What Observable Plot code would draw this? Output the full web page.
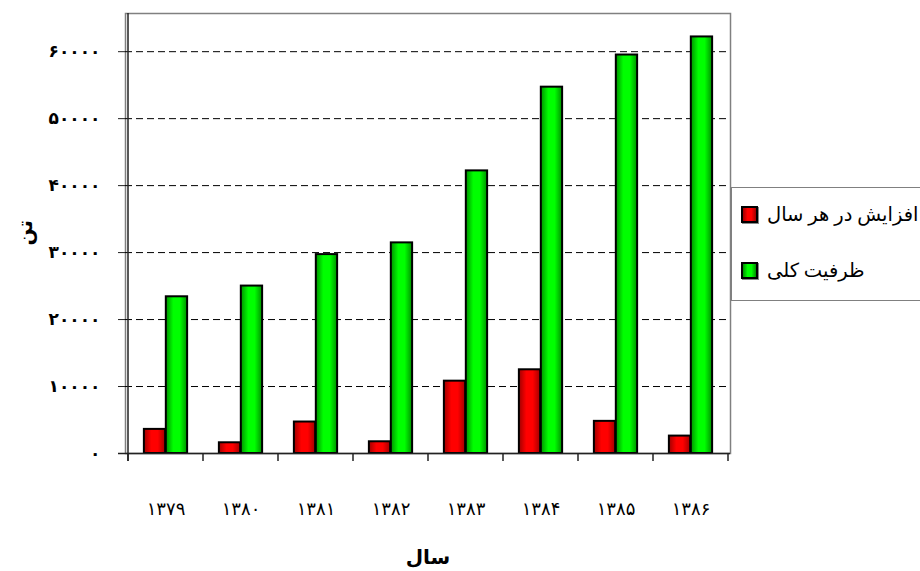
<!DOCTYPE html>
<html>
<head>
<meta charset="utf-8">
<script src="https://cdn.jsdelivr.net/npm/d3@7"></script>
<script src="https://cdn.jsdelivr.net/npm/@observablehq/plot@0.6"></script>
<style>
  body { margin: 0; background: #fff; }
  #wrap { position: relative; width: 920px; height: 571px; overflow: hidden;
          font-family: "Times New Roman", "Liberation Serif", "DejaVu Sans", serif; }
  #legend { position: absolute; left: 731px; top: 187px; width: 240px; height: 114px;
            border: 1px solid #808080; box-sizing: border-box; background: #fff; }
  .row { position: absolute; left: 9px; height: 24px; display: flex; align-items: center; white-space: nowrap; }
  .sw { width: 17px; height: 17px; border: 2px solid #000; box-sizing: border-box; margin-right: 9px; flex: none;
        box-shadow: 1px 1px 0 #888; }
  .lab { font-size: 19.5px; direction: rtl; color: #000; }
</style>
</head>
<body>
<div id="wrap">
  <div id="chart"></div>
  <div id="legend"></div>
</div>
<script>
// ---- data ----
const years = ["1379", "1380", "1381", "1382", "1383", "1384", "1385", "1386"];
const increase = [3600, 1600, 4700, 1750, 10800, 12500, 4800, 2600];      // افزایش در هر سال
const capacity = [23400, 25000, 29700, 31450, 42200, 54700, 59500, 62200]; // ظرفیت کلی
const seriesNames = ["افزایش در هر سال", "ظرفیت کلی"];
const yTicks = [0, 10000, 20000, 30000, 40000, 50000, 60000];
const xTitle = "سال";
const yTitle = "تن";

const fa = s => String(s).replace(/\d/g, d => "۰۱۲۳۴۵۶۷۸۹"[d]);

const incRows = years.map((yr, i) => ({year: yr, value: increase[i]}));
const capRows = years.map((yr, i) => ({year: yr, value: capacity[i]}));

const W = 920, H = 571, mL = 125, mR = 190, mT = 13, mB = 118;
const bw = (W - mL - mR) / years.length;
const gap = 0.21, barFrac = 0.29;

const chart = Plot.plot({
  width: W, height: H,
  marginLeft: mL, marginRight: mR, marginTop: mT, marginBottom: mB,
  style: {fontFamily: "'Times New Roman', 'Liberation Serif', 'DejaVu Sans', serif", background: "#fff", color: "#000"},
  x: {type: "band", domain: years, padding: 0},
  y: {domain: [0, 65700]},
  marks: [
    Plot.frame({stroke: "#808080", strokeWidth: 1.5}),
    Plot.ruleY(yTicks.filter(d => d > 0), {stroke: "#000", strokeWidth: 1, strokeDasharray: "7,4"}),
    Plot.barY(incRows, {x: "year", y: "value", fill: "url(#gRed)", stroke: "#000", strokeWidth: 2,
      insetLeft: gap * bw, insetRight: (1 - gap - barFrac) * bw}),
    Plot.barY(capRows, {x: "year", y: "value", fill: "url(#gGreen)", stroke: "#000", strokeWidth: 2,
      insetLeft: (gap + barFrac) * bw, insetRight: (1 - gap - 2 * barFrac) * bw}),
    Plot.ruleY([0], {stroke: "#222", strokeWidth: 1.5, insetLeft: -7}),
    Plot.axisY({ticks: yTicks, tickFormat: fa, tickSize: 7, tickPadding: 18, fontSize: 17, fontWeight: "bold", label: null, stroke: "#222"}),
    Plot.axisX({tickSize: 0, tickPadding: 49, tickFormat: fa, fontSize: 18, label: null}),
    Plot.text([yTitle], {frameAnchor: "left", dx: -100, dy: 12, rotate: -90, fontSize: 20, fontWeight: "bold"}),
    Plot.text([xTitle], {frameAnchor: "bottom", dy: 110, fontSize: 20, fontWeight: "bold"})
  ]
});

// gradients for the bar fills
const svg = d3.select(chart);
const defs = svg.insert("defs", ":first-child");
function grad(id, dark, bright) {
  const g = defs.append("linearGradient").attr("id", id).attr("x1", 0).attr("x2", 1).attr("y1", 0).attr("y2", 0);
  g.append("stop").attr("offset", "0%").attr("stop-color", dark);
  g.append("stop").attr("offset", "35%").attr("stop-color", bright);
  g.append("stop").attr("offset", "65%").attr("stop-color", bright);
  g.append("stop").attr("offset", "100%").attr("stop-color", dark);
}
grad("gRed", "#a00000", "#ff0000");
grad("gGreen", "#009000", "#00ff00");

// left axis line and category boundary ticks, placed through the plot's scales
const xs = chart.scale("x"), ys = chart.scale("y");
const y0 = ys.apply(0), yTop = ys.apply(ys.domain[1]);
const g = svg.append("g").attr("stroke", "#222").attr("stroke-width", 1.5);
g.append("line").attr("x1", xs.apply(years[0])).attr("x2", xs.apply(years[0]))
  .attr("y1", yTop).attr("y2", y0 + 8);
const bounds = years.map(yr => xs.apply(yr)).concat([xs.apply(years[years.length - 1]) + xs.bandwidth]);
bounds.forEach(b => g.append("line").attr("x1", b).attr("x2", b).attr("y1", y0).attr("y2", y0 + 8));

document.getElementById("chart").appendChild(chart);

// legend
const legend = document.getElementById("legend");
const fills = ["linear-gradient(90deg,#a00000,#ff0000 35%,#ff0000 65%,#a00000)",
               "linear-gradient(90deg,#009000,#00ff00 35%,#00ff00 65%,#009000)"];
const rowTops = [14, 70];
seriesNames.forEach((name, i) => {
  const row = document.createElement("div");
  row.className = "row";
  row.style.top = rowTops[i] + "px";
  row.innerHTML = `<div class="sw" style="background:${fills[i]}"></div><span class="lab">${name}</span>`;
  legend.appendChild(row);
});
</script>
</body>
</html>
